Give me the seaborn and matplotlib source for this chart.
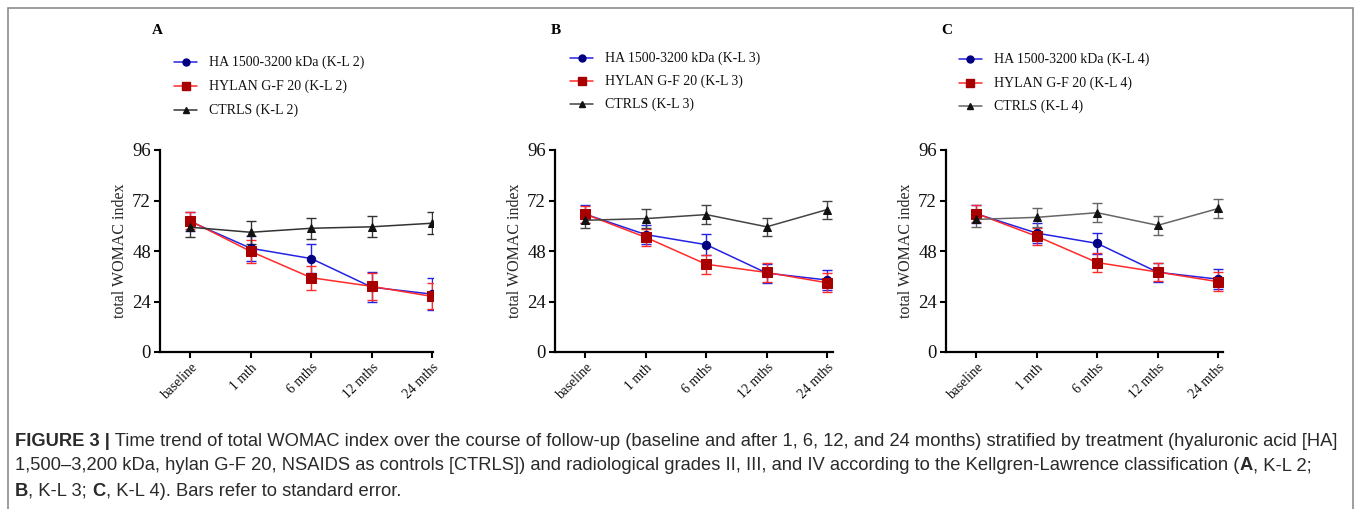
import numpy as np
import pandas as pd
import matplotlib
matplotlib.use("Agg")
import matplotlib.pyplot as plt
from matplotlib import font_manager
from matplotlib.patches import Rectangle
import seaborn as sns

# ---------------- data ----------------
timepoints = ["baseline", "1 mth", "6 mths", "12 mths", "24 mths"]
panel_letters = ["A", "B", "C"]
kl_grades = ["2", "3", "4"]

# K-L 2
ha_kl2 = [62.0, 49.3, 44.4, 30.8, 27.5]
ha_kl2_se = [4.7, 6.0, 6.7, 7.0, 7.5]
hylan_kl2 = [62.3, 47.8, 35.3, 31.2, 26.4]
hylan_kl2_se = [4.0, 5.3, 5.7, 6.3, 6.2]
ctrl_kl2 = [59.3, 56.9, 58.8, 59.5, 61.2]
ctrl_kl2_se = [4.7, 5.4, 4.9, 4.9, 5.1]

# K-L 3
ha_kl3 = [65.5, 55.8, 51.0, 37.5, 34.2]
ha_kl3_se = [4.2, 4.6, 5.0, 4.5, 4.8]
hylan_kl3 = [65.5, 54.5, 41.7, 37.8, 32.9]
hylan_kl3_se = [4.0, 4.0, 4.5, 4.4, 4.6]
ctrl_kl3 = [62.6, 63.4, 65.3, 59.5, 67.7]
ctrl_kl3_se = [3.8, 4.4, 4.6, 4.4, 4.3]

# K-L 4
ha_kl4 = [65.7, 56.5, 51.6, 37.9, 34.6]
ha_kl4_se = [4.2, 4.6, 5.0, 4.5, 4.8]
hylan_kl4 = [65.8, 55.0, 42.5, 38.0, 33.4]
hylan_kl4_se = [4.0, 4.0, 4.5, 4.4, 4.6]
ctrl_kl4 = [63.0, 64.0, 66.2, 60.2, 68.2]
ctrl_kl4_se = [3.8, 4.4, 4.6, 4.4, 4.3]

y_ticks = [0, 24, 48, 72, 96]

caption_lines = [
    [("FIGURE 3 |", "bold"), (" Time trend of total WOMAC index over the course of follow-up (baseline and after 1, 6, 12, and 24 months) stratified by treatment (hyaluronic acid [HA]", "normal")],
    [("1,500–3,200 kDa, hylan G-F 20, NSAIDS as controls [CTRLS]) and radiological grades II, III, and IV according to the Kellgren-Lawrence classification (", "normal"), ("A", "bold"), (", K-L 2;", "normal")],
    [("B", "bold"), (", K-L 3; ", "normal"), ("C", "bold"), (", K-L 4). Bars refer to standard error.", "normal")],
]

# ---------------- style ----------------
sns.set_theme(style="white")
avail = {f.name for f in font_manager.fontManager.ttflist}
serif = "Liberation Serif" if "Liberation Serif" in avail else "DejaVu Serif"
cap_font = "Liberation Sans Narrow" if "Liberation Sans Narrow" in avail else "Liberation Sans"
plt.rcParams["font.family"] = [serif, "DejaVu Serif"]

W, H = 1355, 509
fig = plt.figure(figsize=(W / 100, H / 100), dpi=100)
fig.patch.set_facecolor("white")

series_data = [
    (ha_kl2, ha_kl2_se, hylan_kl2, hylan_kl2_se, ctrl_kl2, ctrl_kl2_se),
    (ha_kl3, ha_kl3_se, hylan_kl3, hylan_kl3_se, ctrl_kl3, ctrl_kl3_se),
    (ha_kl4, ha_kl4_se, hylan_kl4, hylan_kl4_se, ctrl_kl4, ctrl_kl4_se),
]

axes_px = [(160, 433), (555, 833), (946, 1223)]
y_top_px, y_bot_px = 150, 352
letter_x = [152, 551, 941]
legend_text_x = [209, 605, 994]
legend_rows = [[62, 86, 110], [58, 81, 104], [59, 83, 106]]
ctrl_line_colors = ["#333333", "#444444", "#666666"]

for i in range(3):
    ha, ha_se, hy, hy_se, ct, ct_se = series_data[i]
    x0, x1 = axes_px[i]
    ax = fig.add_axes([x0 / W, 1 - y_bot_px / H, (x1 - x0) / W, (y_bot_px - y_top_px) / H])
    grade = kl_grades[i]
    names = [f"HA 1500-3200 kDa (K-L {grade})", f"HYLAN G-F 20 (K-L {grade})", f"CTRLS (K-L {grade})"]
    df = pd.DataFrame({
        "time": list(range(5)) * 3,
        "score": ha + hy + ct,
        "se": ha_se + hy_se + ct_se,
        "group": [names[0]] * 5 + [names[1]] * 5 + [names[2]] * 5,
    })
    styles = [
        dict(line="#2323e6", mk="#000080", marker="o", ms=6),
        dict(line="#ff2a2a", mk="#a80000", marker="s", ms=6.5),
        dict(line=ctrl_line_colors[i], mk="#111111", marker="^", ms=5.5),
    ]
    for name, st in zip(names, styles):
        sub = df[df["group"] == name]
        ax.errorbar(sub["time"], sub["score"], yerr=sub["se"], fmt="none",
                    ecolor=st["line"], elinewidth=1.0, capsize=3.5, capthick=1.0, zorder=2)
        sns.lineplot(data=sub, x="time", y="score", ax=ax, color=st["line"], lw=1.1,
                     marker=st["marker"], markersize=st["ms"], markerfacecolor=st["mk"],
                     markeredgecolor=st["mk"], errorbar=None, zorder=3)
    ax.set_xlim(-0.5, (x1 - x0) / 60.5 - 0.5)
    ax.set_ylim(0, 96)
    ax.set_yticks(y_ticks)
    ax.set_yticklabels([str(t) for t in y_ticks], fontsize=13.5)
    ax.set_xticks(range(5))
    ax.set_xticklabels(timepoints, rotation=45, ha="right", rotation_mode="anchor", fontsize=9.8)
    ax.set_xlabel("")
    ax.set_ylabel("total WOMAC index", fontsize=11.5, labelpad=3)
    for s in ["top", "right"]:
        ax.spines[s].set_visible(False)
    for s in ["left", "bottom"]:
        ax.spines[s].set_color("black")
        ax.spines[s].set_linewidth(1.6)
    ax.tick_params(axis="both", direction="out", length=4.5, width=1.5, color="black",
                   left=True, bottom=True, labelcolor="#111111", pad=2)
    ax.set_facecolor("white")

    # panel letter
    fig.text(letter_x[i] / W, 1 - 30 / H, panel_letters[i], fontsize=11, fontweight="bold",
             ha="left", va="center", color="black")
    # legend (manual, in figure coordinates)
    for name, st, ry in zip(names, styles, legend_rows[i]):
        lx = legend_text_x[i]
        fig.add_artist(plt.Line2D([(lx - 35) / W, (lx - 12) / W], [1 - ry / H, 1 - ry / H],
                                  color=st["line"], lw=1.1, transform=fig.transFigure))
        fig.add_artist(plt.Line2D([(lx - 23.5) / W], [1 - ry / H], marker=st["marker"],
                                  markersize=st["ms"] - 1, color=st["mk"], lw=0,
                                  transform=fig.transFigure))
        fig.text(lx / W, 1 - ry / H, name, fontsize=10, ha="left", va="center", color="#111111")

# frame around figure
fig.add_artist(Rectangle((8 / W, -0.2), (1353 - 8) / W, 1.2 - 8 / H + 0.0, transform=fig.transFigure,
                         fill=False, edgecolor="#8c8c8c", lw=1.2))

# caption with mixed weights
fig.canvas.draw()
renderer = fig.canvas.get_renderer()
line_y = [441, 466, 491]
for runs, ly in zip(caption_lines, line_y):
    xpx = 15
    for txt, wt in runs:
        t = fig.text(xpx / W, 1 - ly / H, txt, fontsize=13.25, fontweight=wt,
                     family=[cap_font, "DejaVu Sans"], ha="left", va="center", color="#2a2a2a")
        bb = t.get_window_extent(renderer=renderer)
        xpx += bb.width

fig.savefig("out.png", dpi=100, facecolor="white")
